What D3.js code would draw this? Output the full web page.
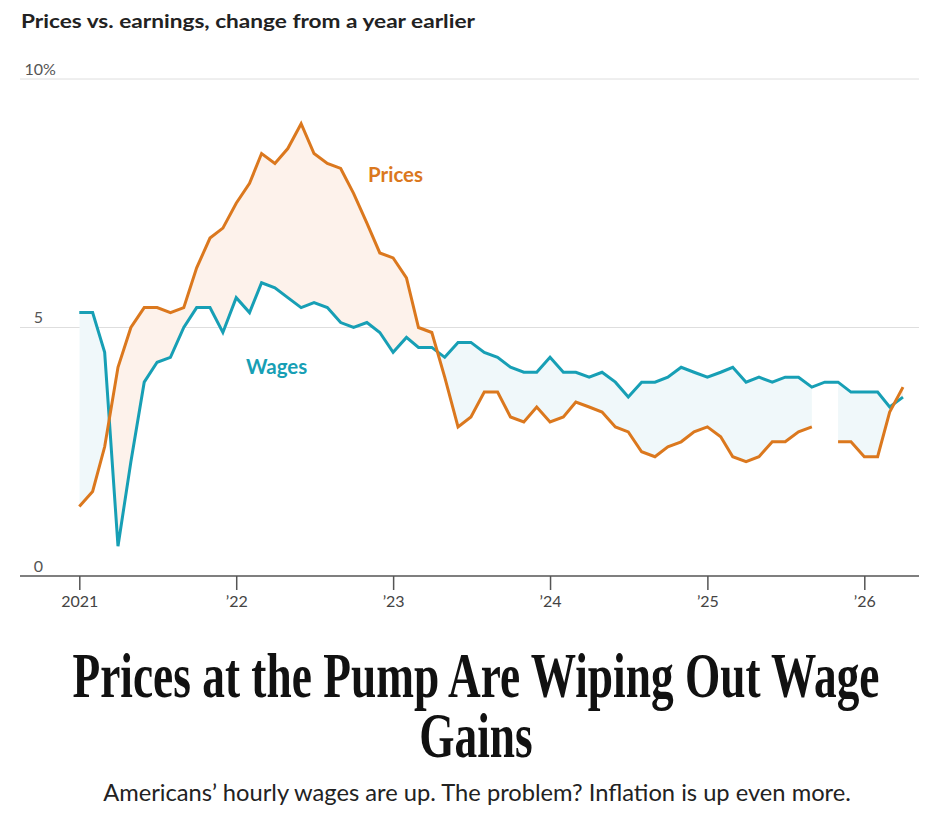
<!DOCTYPE html>
<html>
<head>
<meta charset="utf-8">
<script src="https://cdn.jsdelivr.net/npm/d3@7"></script>
<style>
  body { margin: 0; background: #fff; }
  svg { display: block; font-family: Lato, "Noto Sans", sans-serif; }
</style>
</head>
<body>
<div id="chart"></div>
<script>
// ---- data ----
const chartTitle = "Prices vs. earnings, change from a year earlier";
const headlineLines = ["Prices at the Pump Are Wiping Out Wage", "Gains"];
const subtitle = "Americans’ hourly wages are up. The problem? Inflation is up even more.";

const yTicks = [0, 5, 10];
const tickYears = [2021, 2022, 2023, 2024, 2025, 2026];

// monthly, Jan 2021 - Apr 2026, % change from a year earlier
const wages = [
  5.3, 5.3, 4.5, 0.6, 2.3, 3.9, 4.3, 4.4, 5.0, 5.4, 5.4, 4.9,
  5.6, 5.3, 5.9, 5.8, 5.6, 5.4, 5.5, 5.4, 5.1, 5.0, 5.1, 4.9,
  4.5, 4.8, 4.6, 4.6, 4.4, 4.7, 4.7, 4.5, 4.4, 4.2, 4.1, 4.1,
  4.4, 4.1, 4.1, 4.0, 4.1, 3.9, 3.6, 3.9, 3.9, 4.0, 4.2, 4.1,
  4.0, 4.1, 4.2, 3.9, 4.0, 3.9, 4.0, 4.0, 3.8, 3.9, 3.9, 3.7,
  3.7, 3.7, 3.4, 3.6
];
const prices = [
  1.4, 1.7, 2.6, 4.2, 5.0, 5.4, 5.4, 5.3, 5.4, 6.2, 6.8, 7.0,
  7.5, 7.9, 8.5, 8.3, 8.6, 9.1, 8.5, 8.3, 8.2, 7.7, 7.1, 6.5,
  6.4, 6.0, 5.0, 4.9, 4.0, 3.0, 3.2, 3.7, 3.7, 3.2, 3.1, 3.4,
  3.1, 3.2, 3.5, 3.4, 3.3, 3.0, 2.9, 2.5, 2.4, 2.6, 2.7, 2.9,
  3.0, 2.8, 2.4, 2.3, 2.4, 2.7, 2.7, 2.9, 3.0, null, 2.7, 2.7,
  2.4, 2.4, 3.3, 3.8
];
const months = d3.utcMonth.range(new Date(Date.UTC(2021, 0, 1)), new Date(Date.UTC(2026, 4, 1)));

const data = months.map((date, i) => ({ date, wage: wages[i], price: prices[i] }));

// ---- layout ----
const width = 936;
const height = 814;
const plot = { left: 20, right: 919, top: 79, bottom: 576 };

const orange = "#db781e";
const teal = "#179fb5";
const orangeFill = "#fdf2eb";
const tealFill = "#f0f8fa";
const serif = "'Liberation Serif', 'DejaVu Serif', serif";

const x = d3.scaleUtc()
  .domain([new Date(Date.UTC(2021, 0, 1)), new Date(Date.UTC(2026, 0, 1))])
  .range([79.3, 864.3]);

const y = d3.scaleLinear().domain([0, 10]).range([plot.bottom, plot.top]);

const svg = d3.select("#chart")
  .append("svg")
  .attr("width", width)
  .attr("height", height)
  .attr("viewBox", [0, 0, width, height]);

// squeeze factor so a text fills a target width
function fitWidth(sel, w) {
  const len = sel.node().getComputedTextLength();
  return w / len;
}

// chart title
svg.append("text")
  .attr("x", 21)
  .attr("y", 28)
  .attr("font-size", 19)
  .attr("font-weight", 700)
  .attr("fill", "#222")
  .attr("textLength", 454)
  .attr("lengthAdjust", "spacingAndGlyphs")
  .text(chartTitle);

// gridlines
svg.append("g")
  .selectAll("line")
  .data(yTicks.filter((d) => d > 0))
  .join("line")
  .attr("x1", plot.left)
  .attr("x2", plot.right)
  .attr("y1", (d) => y(d))
  .attr("y2", (d) => y(d))
  .attr("stroke", "#dedede")
  .attr("stroke-width", 1);

// y labels
const yLabel = svg.append("g")
  .attr("font-size", 16)
  .attr("fill", "#555");
yLabel.selectAll("text.num")
  .data(yTicks)
  .join("text")
  .attr("class", "num")
  .attr("x", 43)
  .attr("y", (d) => y(d) - 4.5)
  .attr("text-anchor", "end")
  .text((d) => d);
yLabel.append("text")
  .attr("x", 43)
  .attr("y", y(10) - 4.5)
  .text("%");

// difference fills
const defs = svg.append("defs");
defs.append("clipPath").attr("id", "clip-above")
  .append("path")
  .attr("d", d3.area().x((d) => x(d.date)).y0(0).y1((d) => y(d.wage))(data));
defs.append("clipPath").attr("id", "clip-below")
  .append("path")
  .attr("d", d3.area().x((d) => x(d.date)).y0(height).y1((d) => y(d.wage))(data));

const band = d3.area()
  .defined((d) => d.price != null)
  .x((d) => x(d.date))
  .y0((d) => y(d.wage))
  .y1((d) => y(d.price));

svg.append("path")
  .attr("clip-path", "url(#clip-above)")
  .attr("fill", orangeFill)
  .attr("d", band(data));

svg.append("path")
  .attr("clip-path", "url(#clip-below)")
  .attr("fill", tealFill)
  .attr("d", band(data));

// x axis
const xAxis = d3.axisBottom(x)
  .tickValues(tickYears.map((yr) => new Date(Date.UTC(yr, 0, 1))))
  .tickSize(14)
  .tickPadding(6)
  .tickSizeOuter(0)
  .tickFormat((d) => {
    const yr = d.getUTCFullYear();
    return yr === 2021 ? "2021" : "’" + String(yr).slice(2);
  });

const xg = svg.append("g")
  .attr("transform", `translate(0,${plot.bottom})`)
  .call(xAxis);
xg.select(".domain").remove();
xg.selectAll(".tick line").attr("stroke", "#555").attr("stroke-width", 1.5);
xg.attr("font-family", null);
xg.selectAll(".tick text")
  .attr("font-size", 16)
  .attr("fill", "#444");

svg.append("line")
  .attr("x1", plot.left)
  .attr("x2", plot.right)
  .attr("y1", plot.bottom)
  .attr("y2", plot.bottom)
  .attr("stroke", "#555")
  .attr("stroke-width", 1.5);

// lines
const wageLine = d3.line()
  .x((d) => x(d.date))
  .y((d) => y(d.wage));
const priceLine = d3.line()
  .defined((d) => d.price != null)
  .x((d) => x(d.date))
  .y((d) => y(d.price));

svg.append("path")
  .attr("d", wageLine(data))
  .attr("fill", "none")
  .attr("stroke", teal)
  .attr("stroke-width", 3);

svg.append("path")
  .attr("d", priceLine(data))
  .attr("fill", "none")
  .attr("stroke", orange)
  .attr("stroke-width", 3);

// series labels
svg.append("text")
  .attr("x", 368)
  .attr("y", 182)
  .attr("font-size", 20.5)
  .attr("font-weight", 700)
  .attr("fill", orange)
  .text("Prices");

svg.append("text")
  .attr("x", 246)
  .attr("y", 374)
  .attr("font-size", 20.5)
  .attr("font-weight", 700)
  .attr("fill", teal)
  .text("Wages");

// headline
const h1 = svg.append("text")
  .attr("font-family", serif)
  .attr("font-weight", 700)
  .attr("font-size", 64)
  .attr("fill", "#111")
  .attr("text-anchor", "middle")
  .text(headlineLines[0]);
const k = fitWidth(h1, 807);
h1.attr("transform", `translate(476,697) scale(${k},1)`);
svg.append("text")
  .attr("font-family", serif)
  .attr("font-weight", 700)
  .attr("font-size", 64)
  .attr("fill", "#111")
  .attr("text-anchor", "middle")
  .attr("transform", `translate(476,757) scale(${k},1)`)
  .text(headlineLines[1]);

// subtitle
const sub = svg.append("text")
  .attr("font-size", 24)
  .attr("fill", "#222")
  .attr("text-anchor", "middle")
  .text(subtitle);
const ks = fitWidth(sub, 748);
sub.attr("transform", `translate(477,801) scale(${ks},1)`);
</script>
</body>
</html>
